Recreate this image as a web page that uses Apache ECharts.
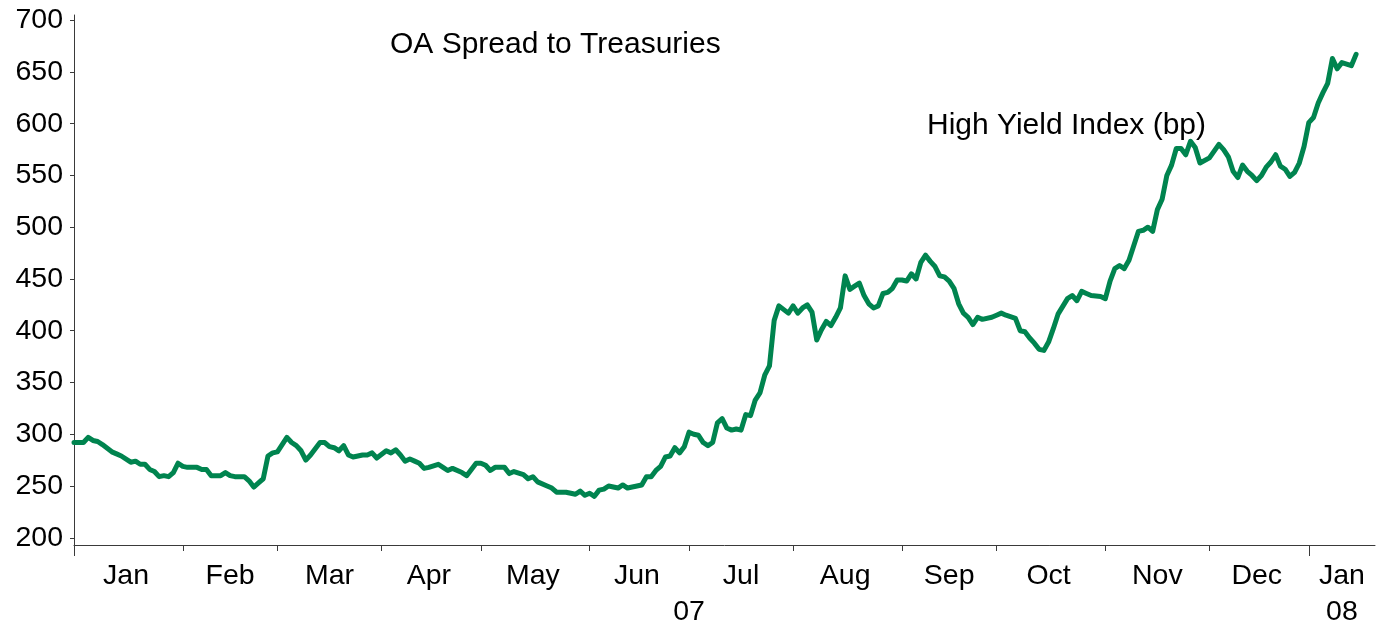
<!DOCTYPE html>
<html>
<head>
<meta charset="utf-8">
<script src="https://cdn.jsdelivr.net/npm/echarts@6/dist/echarts.min.js"></script>
<style>
  html, body { margin: 0; padding: 0; background: #fff; }
  #chart { width: 1381px; height: 627px; }
</style>
</head>
<body>
<div id="chart"></div>
<script>
// High yield index option-adjusted spread to Treasuries, basis points
const tradeDates = [
  '2007-01-01','2007-01-03','2007-01-04','2007-01-05','2007-01-08','2007-01-09','2007-01-11','2007-01-12',
  '2007-01-15','2007-01-17','2007-01-18','2007-01-19','2007-01-22','2007-01-23','2007-01-24','2007-01-25',
  '2007-01-26','2007-01-29','2007-01-30','2007-01-31','2007-02-01','2007-02-02','2007-02-06','2007-02-07',
  '2007-02-08','2007-02-09','2007-02-12','2007-02-13','2007-02-14','2007-02-15','2007-02-16','2007-02-20',
  '2007-02-21','2007-02-22','2007-02-23','2007-02-26','2007-02-27','2007-02-28','2007-03-01','2007-03-02',
  '2007-03-05','2007-03-06','2007-03-07','2007-03-08','2007-03-09','2007-03-12','2007-03-14','2007-03-15',
  '2007-03-16','2007-03-19','2007-03-20','2007-03-21','2007-03-22','2007-03-23','2007-03-27','2007-03-28',
  '2007-03-29','2007-03-30','2007-04-03','2007-04-04','2007-04-05','2007-04-06','2007-04-09','2007-04-10',
  '2007-04-11','2007-04-12','2007-04-13','2007-04-16','2007-04-18','2007-04-19','2007-04-20','2007-04-23',
  '2007-04-25','2007-04-26','2007-04-30','2007-05-01','2007-05-02','2007-05-03','2007-05-04','2007-05-08',
  '2007-05-09','2007-05-10','2007-05-14','2007-05-15','2007-05-16','2007-05-17','2007-05-21','2007-05-22',
  '2007-05-23','2007-05-24','2007-05-25','2007-05-29','2007-05-30','2007-05-31','2007-06-01','2007-06-04',
  '2007-06-05','2007-06-06','2007-06-07','2007-06-11','2007-06-12','2007-06-13','2007-06-15','2007-06-18',
  '2007-06-19','2007-06-20','2007-06-21','2007-06-22','2007-06-25','2007-06-26','2007-06-27','2007-06-28',
  '2007-06-29','2007-07-02','2007-07-03','2007-07-04','2007-07-05','2007-07-06','2007-07-09','2007-07-10',
  '2007-07-11','2007-07-12','2007-07-13','2007-07-16','2007-07-17','2007-07-18','2007-07-19','2007-07-20',
  '2007-07-23','2007-07-24','2007-07-25','2007-07-26','2007-07-27','2007-07-31','2007-08-01','2007-08-02',
  '2007-08-03','2007-08-06','2007-08-07','2007-08-08','2007-08-09','2007-08-10','2007-08-13','2007-08-14',
  '2007-08-15','2007-08-16','2007-08-17','2007-08-20','2007-08-21','2007-08-22','2007-08-23','2007-08-24',
  '2007-08-27','2007-08-28','2007-08-29','2007-08-30','2007-08-31','2007-09-03','2007-09-04','2007-09-05',
  '2007-09-06','2007-09-07','2007-09-10','2007-09-11','2007-09-12','2007-09-13','2007-09-14','2007-09-17',
  '2007-09-18','2007-09-19','2007-09-20','2007-09-21','2007-09-24','2007-09-25','2007-09-26','2007-09-28',
  '2007-10-01','2007-10-02','2007-10-03','2007-10-05','2007-10-08','2007-10-09','2007-10-10','2007-10-11',
  '2007-10-12','2007-10-15','2007-10-16','2007-10-17','2007-10-18','2007-10-22','2007-10-23','2007-10-24',
  '2007-10-25','2007-10-26','2007-10-29','2007-10-31','2007-11-01','2007-11-02','2007-11-05','2007-11-06',
  '2007-11-07','2007-11-08','2007-11-09','2007-11-12','2007-11-13','2007-11-14','2007-11-15','2007-11-16',
  '2007-11-19','2007-11-20','2007-11-21','2007-11-22','2007-11-23','2007-11-26','2007-11-27','2007-11-28',
  '2007-11-29','2007-12-03','2007-12-05','2007-12-06','2007-12-07','2007-12-10','2007-12-11','2007-12-12',
  '2007-12-13','2007-12-14','2007-12-17','2007-12-18','2007-12-19','2007-12-20','2007-12-21','2007-12-24',
  '2007-12-25','2007-12-26','2007-12-27','2007-12-28','2007-12-31','2008-01-01','2008-01-02','2008-01-03',
  '2008-01-04','2008-01-07','2008-01-08','2008-01-09','2008-01-10','2008-01-14','2008-01-15'
];

const spreadBp = [
  292, 292, 297, 294, 293, 290, 283, 281,
  279, 273, 274, 271, 271, 266, 264, 259,
  260, 259, 263, 272, 269, 268, 268, 266,
  266, 260, 260, 260, 263, 260, 259, 259,
  255, 249, 253, 257, 279, 282, 283, 290,
  297, 292, 289, 284, 275, 280, 292, 292,
  288, 287, 284, 289, 280, 278, 280, 280,
  282, 277, 284, 282, 285, 280, 274, 276,
  274, 272, 267, 268, 271, 268, 265, 267,
  263, 260, 272, 272, 270, 265, 268, 268,
  262, 264, 261, 257, 259, 254, 250, 248,
  244, 244, 244, 242, 245, 241, 243, 240,
  246, 247, 250, 248, 251, 248, 250, 251,
  259, 259, 265, 269, 278, 279, 287, 282,
  288, 302, 300, 299, 292, 289, 292, 311,
  315, 306, 304, 305, 304, 319, 318, 333,
  340, 357, 366, 410, 424, 417, 424, 417,
  422, 425, 418, 391, 401, 409, 405, 413,
  422, 453, 440, 443, 446, 434, 426, 422,
  424, 436, 437, 441, 449, 449, 448, 455,
  450, 466, 473, 467, 462, 453, 452, 448,
  441, 426, 417, 413, 406, 413, 411, 413,
  415, 417, 415, 412, 400, 399, 393, 388,
  382, 381, 389, 402, 416, 431, 434, 429,
  438, 436, 434, 433, 431, 448, 460, 463,
  460, 468, 482, 496, 497, 500, 496, 517,
  527, 550, 560, 576, 576, 570, 583, 577,
  562, 567, 580, 575, 568, 554, 548, 560,
  554, 550, 545, 550, 558, 563, 570, 559,
  556, 549, 553, 562, 578, 601, 606, 620,
  630, 639, 663, 653, 659, 656, 667
];

const monthNames = ['Jan', 'Feb', 'Mar', 'Apr', 'May', 'Jun', 'Jul', 'Aug', 'Sep', 'Oct', 'Nov', 'Dec'];
const yTickValues = [200, 250, 300, 350, 400, 450, 500, 550, 600, 650, 700];
const yearTags = { '2007': '07', '2008': '08' };
const axisFirstDay = '2007-01-01';
const axisLastDay = '2008-01-21';

// Weekday calendar that forms the category axis
const days = [];
{
  const stop = Date.parse(axisLastDay + 'T00:00:00Z');
  for (let t = Date.parse(axisFirstDay + 'T00:00:00Z'); t <= stop; t += 86400000) {
    const wd = new Date(t).getUTCDay();
    if (wd !== 0 && wd !== 6) days.push(new Date(t).toISOString().slice(0, 10));
  }
}

// Month and year boundaries, with labels centred in each span
const monthStarts = new Set();
const yearStarts = new Set();
days.forEach((d, i) => {
  if (i === 0 || d.slice(0, 7) !== days[i - 1].slice(0, 7)) monthStarts.add(i);
  if (i === 0 || d.slice(0, 4) !== days[i - 1].slice(0, 4)) yearStarts.add(i);
});
function midLabels(starts, textOf) {
  const s = [...starts].sort((a, b) => a - b);
  const out = new Map();
  s.forEach((st, k) => {
    const end = k + 1 < s.length ? s[k + 1] : days.length - 1;
    out.set(Math.floor((st + end) / 2), textOf(days[st]));
  });
  return out;
}
const monthLabelAt = midLabels(monthStarts, d => monthNames[+d.slice(5, 7) - 1]);
const yearLabelAt = midLabels(yearStarts, d => yearTags[d.slice(0, 4)]);

const FONT = '"Liberation Sans", Arial, Helvetica, sans-serif';
const AXIS_COLOR = '#3a3a3a';
const LABEL_SIZE = 28.5;
const NOTE_SIZE = 30;

const chart = echarts.init(document.getElementById('chart'), null, { renderer: 'canvas' });
chart.setOption({
  animation: false,
  backgroundColor: '#ffffff',
  textStyle: { fontFamily: FONT },
  grid: { left: 74, right: 6, top: 15, bottom: 81, containLabel: false },
  xAxis: [
    {
      type: 'category',
      data: days,
      boundaryGap: false,
      position: 'bottom',
      axisLine: { onZero: false, lineStyle: { color: AXIS_COLOR, width: 1 } },
      axisTick: { show: true, length: 6, interval: (i) => monthStarts.has(i), lineStyle: { color: AXIS_COLOR, width: 1 } },
      axisLabel: {
        show: true, margin: 17, fontSize: LABEL_SIZE, color: '#000', fontFamily: FONT,
        interval: (i) => monthLabelAt.has(i),
        formatter: (v, i) => monthLabelAt.get(i) || ''
      },
      splitLine: { show: false }
    },
    {
      type: 'category',
      data: days,
      boundaryGap: false,
      position: 'bottom',
      offset: 0,
      axisLine: { show: false, onZero: false },
      axisTick: { show: true, length: 11, interval: (i) => yearStarts.has(i), lineStyle: { color: AXIS_COLOR, width: 1 } },
      axisLabel: {
        show: true, margin: 53, fontSize: LABEL_SIZE, color: '#000', fontFamily: FONT,
        interval: (i) => yearLabelAt.has(i),
        formatter: (v, i) => yearLabelAt.get(i) || ''
      },
      splitLine: { show: false }
    }
  ],
  yAxis: {
    type: 'value',
    min: 193,
    max: 705,
    axisLine: { show: true, lineStyle: { color: AXIS_COLOR, width: 1 } },
    axisTick: { show: true, length: 4, customValues: yTickValues, lineStyle: { color: AXIS_COLOR, width: 1 } },
    axisLabel: { show: true, margin: 11, fontSize: LABEL_SIZE, color: '#000', fontFamily: FONT, customValues: yTickValues },
    splitLine: { show: false }
  },
  graphic: [
    { type: 'text', left: 390, top: 30, style: { text: 'OA Spread to Treasuries', fontSize: NOTE_SIZE, fontFamily: FONT, fill: '#000' } },
    { type: 'text', left: 927, top: 111, style: { text: 'High Yield Index (bp)', fontSize: NOTE_SIZE, fontFamily: FONT, fill: '#000' } }
  ],
  series: [{
    type: 'line',
    xAxisIndex: 0,
    data: tradeDates.map((d, i) => [d, spreadBp[i]]),
    showSymbol: false,
    smooth: false,
    lineStyle: { color: '#00844F', width: 5, join: 'round', cap: 'round' },
    emphasis: { disabled: true }
  }]
});
</script>
</body>
</html>
